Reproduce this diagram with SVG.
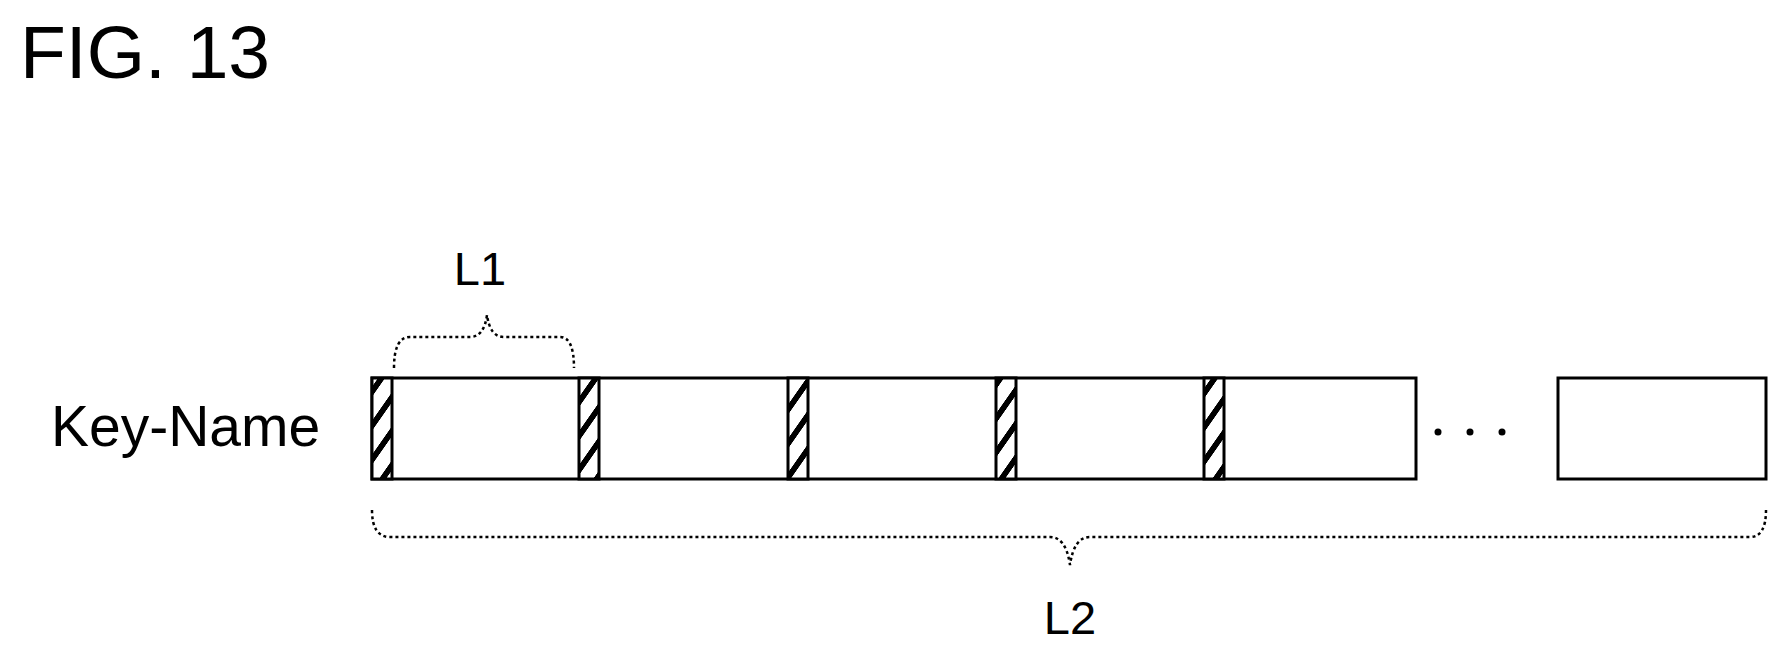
<svg xmlns="http://www.w3.org/2000/svg" width="1781" height="651" viewBox="0 0 1781 651">
<style>
text{font-family:"Liberation Sans",Arial,sans-serif;fill:#000}
.box{fill:#fff;stroke:#000;stroke-width:3}
.hatch{fill:url(#h);stroke:#000;stroke-width:3}
.brace{fill:none;stroke:#000;stroke-width:2.5;stroke-dasharray:3 3}
</style>
<defs>
<pattern id="h" patternUnits="userSpaceOnUse" width="20" height="34" patternTransform="skewY(-55)">
<rect width="20" height="34" fill="#fff"/><rect width="20" height="10" fill="#000"/>
</pattern>
</defs>
<text x="20" y="78" font-size="75">FIG. 13</text>
<text x="51" y="446" font-size="57">Key-Name</text>
<text x="480" y="285" font-size="47" text-anchor="middle">L1</text>
<text x="1070" y="634" font-size="47" text-anchor="middle">L2</text>
<g id="row">
<rect class="box" x="372" y="378" width="1044" height="101"/>
<rect class="hatch" x="372" y="378" width="20" height="101"/>
<rect class="hatch" x="579" y="378" width="20" height="101"/>
<rect class="hatch" x="788" y="378" width="20" height="101"/>
<rect class="hatch" x="996" y="378" width="20" height="101"/>
<rect class="hatch" x="1204" y="378" width="20" height="101"/>
</g>
<g id="last"><rect class="box" x="1558" y="378" width="208" height="101"/></g>
<g id="dots" fill="#000"><circle cx="1438" cy="432" r="3.5"/><circle cx="1470" cy="432" r="3.5"/><circle cx="1502" cy="432" r="3.5"/></g>
<g id="connectors">
<path class="brace" d="M394,368 Q394,337 410,337 L470,337 Q484,337 487,315 Q490,337 504,337 L560,337 Q574,337 574,368"/>
<path class="brace" d="M372,510 Q372,537 390,537 L1050,537 Q1066,537 1070,565 Q1074,537 1090,537 L1750,537 Q1766,537 1766,510"/>
</g>
</svg>
